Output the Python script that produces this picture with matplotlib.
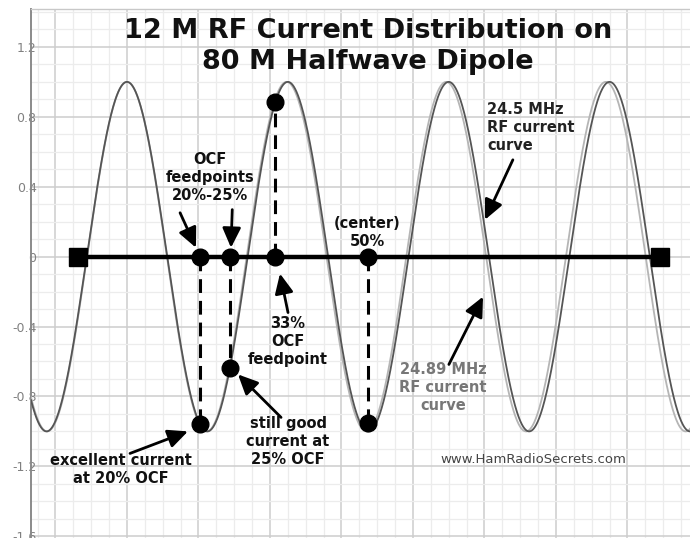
import matplotlib
matplotlib.use("Agg")
import matplotlib.pyplot as plt
from matplotlib.ticker import MultipleLocator, FuncFormatter
import numpy as np

# ---- data (graph units: 0.4 per major grid square) ----
curve_freqs_mhz = [24.5, 24.89]
curve_periods = [0.900, 0.893]       # one cycle of each current curve
curve_peak_x = [0.40, 0.40]          # first full peak of each curve
curve_colors = ["#555555", "#b5b5b5"]

dipole_ends_x = [0.126, 3.382]       # square end markers on the wire (y = 0)

feed_x = [0.808, 0.976, 1.228, 1.748]          # 20 %, 25 %, 33 %, 50 % points on the wire
feed_curve_y = [-0.96, -0.64, 0.886, -0.95]    # current read at those points

ytick_values = [-1.6, -1.2, -0.8, -0.4, 0, 0.4, 0.8, 1.2]

title_text = "12 M RF Current Distribution on\n80 M Halfwave Dipole"

annotations = [
    # text, text xy, arrow start, arrow tip, ha, color
    ("OCF\nfeedpoints\n20%-25%", (0.864, 0.451), None, None, "center", "#111111"),
    ("(center)\n50%", (1.743, 0.137), None, None, "center", "#111111"),
    ("33%\nOCF\nfeedpoint", (1.301, -0.486), (1.301, -0.32), (1.256, -0.097), "center", "#111111"),
    ("still good\ncurrent at\n25% OCF", (1.301, -1.057), (1.262, -0.92), (1.021, -0.674), "center", "#111111"),
    ("excellent current\nat 20% OCF", (0.366, -1.217), (0.417, -1.126), (0.741, -1.0), "center", "#111111"),
    ("24.5 MHz\nRF current\ncurve", (2.414, 0.737), (2.559, 0.554), (2.403, 0.211), "left", "#222222"),
    ("24.89 MHz\nRF current\ncurve", (2.168, -0.749), (2.201, -0.617), (2.392, -0.229), "center", "#777777"),
]
extra_arrows = [
    ((0.697, 0.251), (0.786, 0.051)),
    ((0.989, 0.269), (0.982, 0.051)),
]

xlim = (-0.137, 3.55)
ylim = (-1.61, 1.417)

fig = plt.figure(figsize=(6.9, 5.38), dpi=100)
ax = fig.add_axes([31 / 690, 0, 659 / 690, 529 / 538])
ax.set_xlim(*xlim)
ax.set_ylim(*ylim)

# grid
ax.xaxis.set_major_locator(MultipleLocator(0.4))
ax.xaxis.set_minor_locator(MultipleLocator(0.1))
ax.yaxis.set_major_locator(MultipleLocator(0.4))
ax.yaxis.set_minor_locator(MultipleLocator(0.1))
ax.grid(which="minor", color="#ececec", lw=0.9)
ax.grid(which="major", color="#cdcdcd", lw=1.1)
ax.set_axisbelow(True)
ax.tick_params(axis="x", which="both", length=0, labelbottom=False)
ax.tick_params(axis="y", which="both", length=0)
ax.set_yticks(ytick_values)
ax.yaxis.set_major_formatter(FuncFormatter(lambda v, p: "%g" % round(v, 2)))
ax.tick_params(axis="y", labelsize=9, labelcolor="#808080", pad=-4)
for s in ["right", "bottom"]:
    ax.spines[s].set_visible(False)
ax.spines["left"].set_color("#8a8a8a")
ax.spines["left"].set_linewidth(1.4)
ax.spines["top"].set_color("#c8c8c8")
ax.spines["top"].set_linewidth(1.0)

# current curves (light first so the darker one sits on top)
xs = np.linspace(xlim[0], xlim[1], 2000)
for per, px0, col in list(zip(curve_periods, curve_peak_x, curve_colors))[::-1]:
    ax.plot(xs, np.cos(2 * np.pi * (xs - px0) / per), color=col, lw=1.3, zorder=3)

# dipole wire
ax.plot(dipole_ends_x, [0, 0], color="black", lw=3.2, zorder=5)
ax.plot(dipole_ends_x, [0, 0], ls="none", marker="s", ms=13, color="black", zorder=6)

# dashed drops and dots
for fx, fy in zip(feed_x, feed_curve_y):
    ax.plot([fx, fx], [0, fy], color="black", lw=2.2, ls=(0, (4.5, 2.6)), zorder=4)
ax.plot(feed_x, [0] * len(feed_x), ls="none", marker="o", ms=12, color="black", zorder=7)
ax.plot(feed_x, feed_curve_y, ls="none", marker="o", ms=12, color="black", zorder=7)

# title
ax.text(1.748, 1.203, title_text, ha="center", va="center", fontsize=19.5,
        fontweight="bold", linespacing=1.25, color="#111111", zorder=8)

arrow_kw = dict(arrowstyle="-|>,head_length=0.6,head_width=0.28", color="black",
                lw=2.0, mutation_scale=20, shrinkA=0, shrinkB=0)

for text, txy, a0, a1, ha, col in annotations:
    ax.text(txy[0], txy[1], text, ha=ha, va="center", fontsize=10.5, fontweight="bold",
            color=col, linespacing=1.25, zorder=8)
    if a0 is not None:
        ax.annotate("", xy=a1, xytext=a0, arrowprops=arrow_kw, zorder=9)
for a0, a1 in extra_arrows:
    ax.annotate("", xy=a1, xytext=a0, arrowprops=arrow_kw, zorder=9)

ax.text(2.671, -1.16, "www.HamRadioSecrets.com", ha="center", va="center",
        fontsize=9.5, color="#444444", zorder=8)

fig.savefig("out.png", dpi=100)
